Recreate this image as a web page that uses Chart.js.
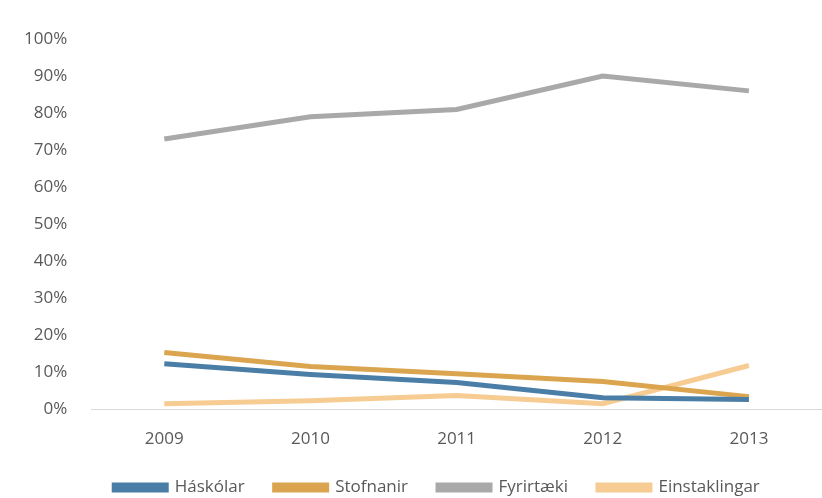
<!DOCTYPE html>
<html>
<head>
<meta charset="utf-8">
<script src="https://cdn.jsdelivr.net/npm/chart.js@4"></script>
<style>
    html, body { margin: 0; padding: 0; background: #fff; }
    #wrap { width: 822px; height: 498px; }
</style>
</head>
<body>
<div id="wrap"><canvas id="plot"></canvas></div>
<script>
const years = ['2009', '2010', '2011', '2012', '2013'];
const haskolar = [12.4, 9.5, 7.3, 3.2, 2.7];
const stofnanir = [15.4, 11.6, 9.7, 7.6, 3.5];
const fyrirtaeki = [73, 79, 81, 90, 86];
const einstaklingar = [1.6, 2.4, 3.8, 1.6, 11.9];

document.addEventListener('DOMContentLoaded', () => {
    const ctx = document.getElementById('plot').getContext('2d');

    const series = (label, data, color) => ({
        label: label,
        data: data,
        borderColor: color,
        backgroundColor: color,
        borderWidth: 5,
        pointRadius: 0,
        tension: 0,
        borderCapStyle: 'butt'
    });

    // legend sits centred under the plot area, not the whole canvas
    const shiftLegend = {
        id: 'shiftLegend',
        afterLayout(chart) {
            chart.legend.left += 26;
            chart.legend.right += 26;
        }
    };

    new Chart(ctx, {
        type: 'line',
        data: {
            labels: years,
            datasets: [
                series('Háskólar', haskolar, '#4a7ea6'),
                series('Stofnanir', stofnanir, '#dba550'),
                series('Fyrirtæki', fyrirtaeki, '#a9a9a9'),
                series('Einstaklingar', einstaklingar, '#f6cc93')
            ]
        },
        options: {
            responsive: true,
            maintainAspectRatio: false,
            animation: false,
            layout: { padding: { left: 0, right: 0, top: 39, bottom: 0 } },
            scales: {
                x: {
                    offset: true,
                    grid: { display: false },
                    border: { display: true, color: '#d9d9d9', width: 1 },
                    ticks: {
                        color: '#595959',
                        padding: 11,
                        font: { family: 'Open Sans', size: 17 }
                    },
                    afterFit: scale => { scale.height -= 11; }
                },
                y: {
                    min: 0,
                    max: 100,
                    grid: { display: false, drawTicks: false },
                    border: { display: false },
                    ticks: {
                        stepSize: 10,
                        color: '#595959',
                        padding: 24,
                        font: { family: 'Open Sans', size: 17 },
                        callback: v => v + '%'
                    }
                }
            },
            plugins: {
                legend: {
                    position: 'bottom',
                    maxHeight: 49,
                    labels: {
                        boxWidth: 52,
                        boxHeight: 5,
                        padding: 30,
                        color: '#595959',
                        font: { family: 'Open Sans', size: 17 }
                    }
                },
                tooltip: { enabled: false }
            }
        },
        plugins: [shiftLegend]
    });
});
</script>
</body>
</html>
